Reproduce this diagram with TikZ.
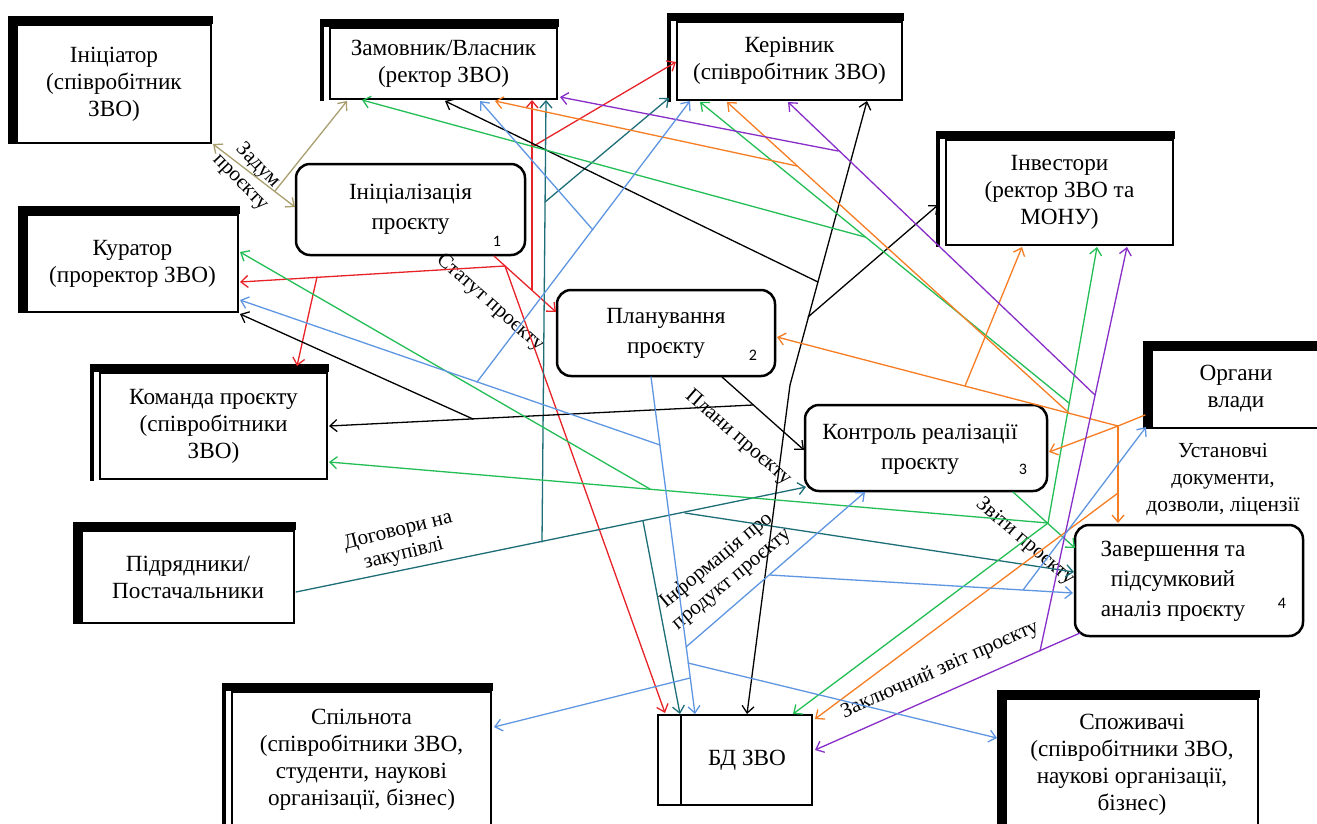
\documentclass[tikz,border=0pt]{standalone}
\usepackage{fontspec}
\setmainfont{Liberation Serif}
\newfontfamily\numfont{Carlito}
\usetikzlibrary{arrows.meta}

\definecolor{cRed}{RGB}{232,35,40}
\definecolor{cOlive}{RGB}{168,158,110}
\definecolor{cGreen}{RGB}{35,190,85}
\definecolor{cBlue}{RGB}{95,150,225}
\definecolor{cTeal}{RGB}{30,110,120}
\definecolor{cOrange}{RGB}{246,125,35}
\definecolor{cPurple}{RGB}{135,45,200}

\newcommand\boxfont{\fontsize{23.2}{27}\selectfont}
\newcommand\procfont{\fontsize{23.2}{30}\selectfont}
\newcommand\lblfont{\fontsize{21}{24}\selectfont}

% thick top and left bars of a participant box
\newcommand\barsplain[1]{%
  \fill ([xshift=-8pt,yshift=8pt]#1.north west) rectangle ([xshift=1pt]#1.south west);
  \fill ([xshift=-8pt,yshift=8pt]#1.north west) rectangle ([xshift=1pt]#1.north east);}
% thick top bar and double left edge
\newcommand\barsdouble[1]{%
  \fill ([xshift=-9pt,yshift=8pt]#1.north west) rectangle ([xshift=-5pt,yshift=-1pt]#1.south west);
  \fill ([xshift=-9pt,yshift=8pt]#1.north west) rectangle ([xshift=1pt]#1.north east);}

\begin{document}
\begin{tikzpicture}[x=1pt,y=-1pt,
  every node/.style={inner sep=0pt},
  actor/.style={draw, line width=2pt, fill=white, align=center, font=\boxfont},
  proc/.style={draw, line width=2.5pt, fill=white, rounded corners=14pt, align=center, font=\procfont},
  flow/.style={line width=1.3pt, line cap=round},
  tip/.style={flow, -{Straight Barb[length=7pt,width=12pt]}},
  dtip/.style={flow, {Straight Barb[length=7pt,width=12pt]}-{Straight Barb[length=7pt,width=12pt]}},
  lbl/.style={align=center, font=\lblfont},
  num/.style={font=\numfont\fontsize{16}{16}\selectfont},
]
\fill[white] (0,0) rectangle (1317,823);
\useasboundingbox (0,0) rectangle (1317,823);

% ---------------- participants ----------------
\node[actor, minimum width=194pt, minimum height=118pt] (ini) at (114,84) {Ініціатор\\(співробітник\\ЗВО)};
\barsplain{ini}
\node[actor, minimum width=211pt, minimum height=97pt] (kur) at (132.5,263.5) {Куратор\\(проректор ЗВО)};
\barsplain{kur}
\node[actor, minimum width=212pt, minimum height=92pt] (pidr) at (188,577) {Підрядники/\\Постачальники};
\barsplain{pidr}
\node[actor, minimum width=168pt, minimum height=78pt] (org) at (1236,389) {Органи\\влади};
\barsplain{org}
\node[actor, minimum width=252pt, minimum height=132pt] (spoz) at (1132,765) {Споживачі\\(співробітники ЗВО,\\наукові організації,\\бізнес)};
\barsplain{spoz}

\node[actor, minimum width=227pt, minimum height=71pt] (zam) at (443.5,63.5) {Замовник/Власник\\(ректор ЗВО)};
\barsdouble{zam}
\node[actor, minimum width=225pt, minimum height=78pt] (ker) at (789.5,61) {Керівник\\(співробітник ЗВО)};
\barsdouble{ker}
\node[actor, minimum width=227pt, minimum height=105pt] (inv) at (1059.5,192.5) {Інвестори\\(ректор ЗВО та\\МОНУ)};
\barsdouble{inv}
\node[actor, minimum width=227pt, minimum height=106pt] (kom) at (213.5,426) {Команда проєкту\\(співробітники\\ЗВО)};
\barsdouble{kom}
\node[actor, minimum width=259pt, minimum height=136pt] (spil) at (361.5,760) {Спільнота\\(співробітники ЗВО,\\студенти, наукові\\організації, бізнес)};
\barsdouble{spil}

\node[actor, minimum width=154pt, minimum height=90pt] (bd) at (735,760) {\hspace*{24pt}БД ЗВО};
\draw[line width=2pt] ([xshift=24pt]bd.north west) -- ([xshift=24pt]bd.south west);

% ---------------- project stages ----------------
\node[proc, minimum width=229pt, minimum height=91pt] (p1) at (410.5,209.5) {Ініціалізація\\проєкту};
\node[proc, minimum width=218pt, minimum height=86pt] (p2) at (666,333) {Планування\\проєкту};
\node[proc, minimum width=242pt, minimum height=86pt] (p3) at (926,448) {\hspace*{-12pt}\begin{tabular}{@{}c@{}}Контроль реалізації\\проєкту\end{tabular}};
\node[proc, minimum width=228pt, minimum height=111pt] (p4) at (1189,580.5) {\hspace*{-32pt}\begin{tabular}{@{}c@{}}Завершення та\\підсумковий\\аналіз проєкту\end{tabular}};
\node[num] (n1) at (497,241) {1};
\node[num] (n2) at (753,355) {2};
\node[num] (n3) at (1023,469) {3};
\node[num] (n4) at (1282,603) {4};

% ---------------- flow labels ----------------
\node[lbl, rotate=-46] (lZadum) at (249,174) {Задум\\проєкту};
\node[lbl, rotate=-41.5] (lStatut) at (490,303) {Статут проєкту};
\node[lbl, rotate=-41] (lPlany) at (738,438) {Плани проєкту};
\node[lbl, rotate=-40.5] (lZvity) at (1025,542) {Звіти проєкту};
\node[lbl, rotate=14] (lDog) at (401,543) {Договори на\\закупівлі};
\node[lbl, rotate=39.5] (lInfo) at (724,570) {Інформація про\\продукт проєкту};
\node[lbl, rotate=24] (lZakl) at (940,670) {Заключний звіт проєкту};
\node[align=center, font=\fontsize{21.5}{27}\selectfont] (lUst) at (1223,479) {Установчі\\документи,\\дозволи, ліцензії};

% ---------------- idea of the project (olive) ----------------
\coordinate (olA) at (213,144);
\coordinate (olB) at (295,207);
\coordinate (olJ) at (275,191);
\coordinate (olZ) at (347,101);
\draw[dtip, cOlive] (olA) -- (olB);
\draw[tip, cOlive] (olJ) -- (olZ);

% ---------------- charter (red) ----------------
\coordinate (rS) at (494,256);
\coordinate (rP2) at (556,312);
\coordinate (rJ1) at (505,266);
\coordinate (rKur) at (240,282);
\coordinate (rJ2) at (317,277);
\coordinate (rKom) at (297,366);
\coordinate (rBD) at (665,713);
\coordinate (rJ3) at (532,290);
\coordinate (rZam) at (532,100);
\coordinate (rJ4) at (532,147);
\coordinate (rKer) at (676,62);
\draw[tip, cRed] (rS) -- (rP2);
\draw[tip, cRed] (rJ1) -- (rKur);
\draw[tip, cRed] (rJ2) -- (rKom);
\draw[tip, cRed] (rJ1) -- (rBD);
\draw[tip, cRed] (rJ3) -- (rZam);
\draw[tip, cRed] (rJ4) -- (rKer);

% ---------------- procurement contracts (teal) ----------------
\coordinate (tS) at (296,592);
\coordinate (tP3) at (806,487);
\coordinate (tJ1) at (542,542);
\coordinate (tZam) at (546,100);
\coordinate (tJ2) at (545,202);
\coordinate (tKer) at (669,98);
\coordinate (tJ3) at (643,521);
\coordinate (tBD) at (680,714);
\coordinate (tJ4) at (685,513);
\coordinate (tP4) at (1074,572);
\draw[tip, cTeal] (tS) -- (tP3);
\draw[tip, cTeal] (tJ1) -- (tZam);
\draw[tip, cTeal] (tJ2) -- (tKer);
\draw[tip, cTeal] (tJ3) -- (tBD);
\draw[tip, cTeal] (tJ4) -- (tP4);

% ---------------- plans (black) ----------------
\coordinate (kS) at (722,377);
\coordinate (kP3) at (804,450);
\coordinate (kJ1) at (753,405);
\coordinate (kKom) at (329,426);
\coordinate (kJ2) at (473,419);
\coordinate (kKur) at (240,314);
\coordinate (kBD) at (747,714);
\coordinate (kBend) at (790,385);
\coordinate (kKer) at (867,101);
\coordinate (kJ3) at (818,282);
\coordinate (kZam) at (445,101);
\coordinate (kJ4) at (808,317);
\coordinate (kInv) at (938,205);
\draw[tip] (kS) -- (kP3);
\draw[tip] (kJ1) -- (kKom);
\draw[tip] (kJ2) -- (kKur);
\draw[dtip] (kBD) -- (kBend) -- (kKer);
\draw[tip] (kJ3) -- (kZam);
\draw[tip] (kJ4) -- (kInv);

% ---------------- reports (green) ----------------
\coordinate (gS) at (1013,492);
\coordinate (gP4) at (1075,548);
\coordinate (gJ) at (1048,523);
\coordinate (gKom) at (329,462);
\coordinate (gJ5) at (650,489);
\coordinate (gKur) at (240,252);
\coordinate (gInv) at (1097,247);
\coordinate (gJ6) at (1069,403);
\coordinate (gKer) at (700,102);
\coordinate (gJ7) at (865,237);
\coordinate (gZam) at (362,100);
\coordinate (gBD) at (793,714);
\draw[tip, cGreen] (gS) -- (gP4);
\draw[tip, cGreen] (gJ) -- (gKom);
\draw[tip, cGreen] (gJ5) -- (gKur);
\draw[tip, cGreen] (gJ) -- (gInv);
\draw[tip, cGreen] (gJ6) -- (gKer);
\draw[tip, cGreen] (gJ7) -- (gZam);
\draw[tip, cGreen] (gJ) -- (gBD);

% ---------------- permits and licences (orange) ----------------
\coordinate (oS) at (1145,415);
\coordinate (oJ) at (1118,426);
\coordinate (oP3) at (1049,452);
\coordinate (oP4) at (1118,523);
\coordinate (oP2) at (777,337);
\coordinate (oJ2) at (965,386);
\coordinate (oInv) at (1022,247);
\coordinate (oJ3) at (1069,413);
\coordinate (oKer) at (727,102);
\coordinate (oJ4) at (797,166);
\coordinate (oZam) at (495,101);
\coordinate (oJ5) at (1118,493);
\coordinate (oBD) at (815,719);
\draw[tip, cOrange] (oS) -- (oJ) -- (oP3);
\draw[tip, cOrange] (oJ) -- (oP4);
\draw[tip, cOrange] (oJ) -- (oP2);
\draw[tip, cOrange] (oJ2) -- (oInv);
\draw[tip, cOrange] (oJ3) -- (oKer);
\draw[tip, cOrange] (oJ4) -- (oZam);
\draw[tip, cOrange] (oJ5) -- (oBD);

% ---------------- final report (purple) ----------------
\coordinate (pS) at (1080,633);
\coordinate (pBD) at (815,750);
\coordinate (pJ) at (1040,651);
\coordinate (pInv) at (1127,247);
\coordinate (pJ2) at (1095,395);
\coordinate (pKer) at (788,102);
\coordinate (pJ3) at (838,151);
\coordinate (pZam) at (560,97);
\draw[tip, cPurple] (pS) -- (pBD);
\draw[tip, cPurple] (pJ) -- (pInv);
\draw[tip, cPurple] (pJ2) -- (pKer);
\draw[tip, cPurple] (pJ3) -- (pZam);

% ---------------- product information (blue) ----------------
\coordinate (bS) at (651,377);
\coordinate (bBD) at (695,714);
\coordinate (bJ1) at (660,445);
\coordinate (bKur) at (240,300);
\coordinate (bJ2) at (477,382);
\coordinate (bKer) at (690,101);
\coordinate (bJ3) at (593,230);
\coordinate (bZam) at (480,101);
\coordinate (bJ4) at (686,647);
\coordinate (bP3) at (865,492);
\coordinate (bJ5) at (770,575);
\coordinate (bP4) at (1073,593);
\coordinate (bJ6) at (1023,590);
\coordinate (bOrg) at (1146,427);
\coordinate (bJ7) at (688,663);
\coordinate (bSpoz) at (997,738);
\coordinate (bJ8) at (690,678);
\coordinate (bSpil) at (494,727);
\draw[tip, cBlue] (bS) -- (bBD);
\draw[tip, cBlue] (bJ1) -- (bKur);
\draw[tip, cBlue] (bJ2) -- (bKer);
\draw[tip, cBlue] (bJ3) -- (bZam);
\draw[tip, cBlue] (bJ4) -- (bP3);
\draw[tip, cBlue] (bJ5) -- (bP4);
\draw[tip, cBlue] (bJ6) -- (bOrg);
\draw[tip, cBlue] (bJ7) -- (bSpoz);
\draw[tip, cBlue] (bJ8) -- (bSpil);
\end{tikzpicture}
\end{document}
